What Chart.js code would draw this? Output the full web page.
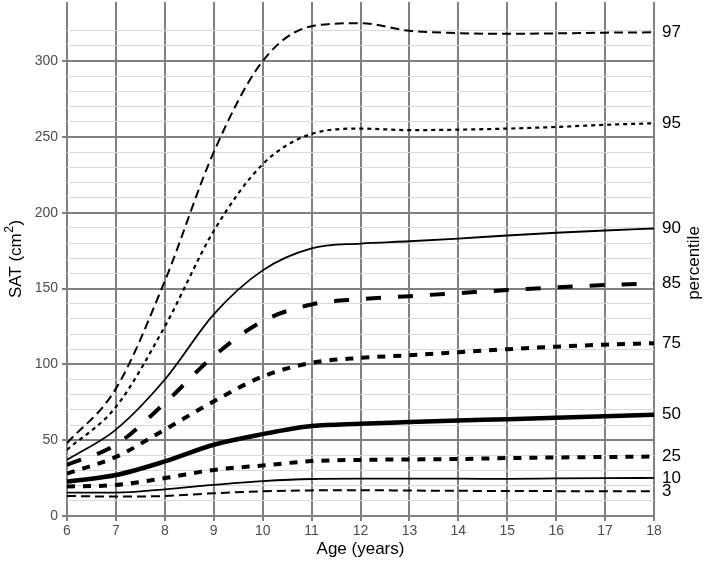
<!DOCTYPE html>
<html lang="en">
<head>
  <meta charset="UTF-8">
  <title>SAT percentiles</title>
  <script src="https://cdn.jsdelivr.net/npm/chart.js"></script>
  <style>
    html, body { margin: 0; padding: 0; background: #fff; }
    #wrap { width: 708px; height: 568px; }
  </style>
</head>
<body>
  <div id="wrap"><canvas id="satChart"></canvas></div>

  <script>
    const ages = [6, 7, 8, 9, 10, 11, 12, 13, 14, 15, 16, 17, 18];
    const percentiles = ['97', '95', '90', '85', '75', '50', '25', '10', '3'];

    const p97 = [48, 84, 155, 240, 300, 323, 325, 320, 318.5, 318, 318.3, 318.8, 319];
    const p95 = [43.6, 72, 125, 188, 232, 252, 255.5, 254.5, 254.8, 255.5, 256.6, 258, 259];
    const p90 = [37, 57, 90, 133, 162, 176.5, 179.7, 181.2, 183, 185, 186.8, 188.3, 189.6];
    const p85 = [33.7, 47, 74.5, 105.5, 128.5, 139.5, 143, 145, 147, 149, 150.8, 152.3, 153.5];
    const p75 = [28, 39, 57, 75.6, 92, 101, 104.3, 106, 108, 110, 111.7, 113, 114];
    const p50 = [22.7, 27, 36, 47, 54, 59.3, 60.9, 62, 63, 63.8, 64.8, 65.8, 66.8];
    const p25 = [19.4, 20.5, 25, 30.4, 33.3, 36.2, 37, 37.3, 37.6, 38.2, 38.6, 38.9, 39.2];
    const p10 = [15.4, 15.4, 17.6, 20.5, 23, 24.4, 24.6, 24.6, 24.6, 24.5, 24.8, 25, 25.1];
    const p3 = [13.2, 12.8, 13.2, 15, 16.3, 16.9, 17, 16.8, 16.6, 16.5, 16.4, 16.3, 16.3];

    const series = [p97, p95, p90, p85, p75, p50, p25, p10, p3];

    // line look per percentile (width, dash)
    const styles = [
      { w: 2, dash: [9, 5] },
      { w: 2.2, dash: [4, 4] },
      { w: 1.8, dash: [] },
      { w: 4, dash: [15, 17] },
      { w: 4, dash: [8, 8] },
      { w: 4.5, dash: [] },
      { w: 4, dash: [8, 8] },
      { w: 1.8, dash: [] },
      { w: 2, dash: [9, 5] }
    ];

    const datasets = series.map((vals, i) => ({
      label: percentiles[i],
      data: ages.map((a, j) => ({ x: a, y: vals[j] })),
      borderColor: '#000',
      borderWidth: styles[i].w,
      borderDash: styles[i].dash,
      pointRadius: 0,
      fill: false,
      cubicInterpolationMode: 'monotone'
    }));

    const gridGray = '#808080';
    const minorGray = '#d9d9d9';
    const tickGray = '#4d4d4d';
    const fontFam = 'Arial, "Liberation Sans", sans-serif';

    // percentile labels at curve ends, "percentile" caption, y title with superscript
    const endLabels = {
      id: 'endLabels',
      afterDraw(chart) {
        const ctx = chart.ctx;
        const y = chart.scales.y;
        const area = chart.chartArea;
        ctx.save();
        ctx.fillStyle = '#000';
        ctx.font = '17px ' + fontFam;
        ctx.textAlign = 'left';
        ctx.textBaseline = 'middle';
        series.forEach((vals, i) => {
          ctx.fillText(percentiles[i], area.right + 8, y.getPixelForValue(vals[vals.length - 1]));
        });
        ctx.save();
        ctx.translate(694, 263);
        ctx.rotate(-Math.PI / 2);
        ctx.textAlign = 'center';
        ctx.fillText('percentile', 0, 0);
        ctx.restore();

        // y axis title: SAT (cm^2)
        const main = 'SAT (cm';
        const sup = '2';
        const close = ')';
        ctx.font = '17px ' + fontFam;
        const wMain = ctx.measureText(main).width;
        const wClose = ctx.measureText(close).width;
        ctx.font = '12px ' + fontFam;
        const wSup = ctx.measureText(sup).width + 1;
        const total = wMain + wSup + wClose;
        ctx.translate(21, (area.top + area.bottom) / 2);
        ctx.rotate(-Math.PI / 2);
        ctx.textAlign = 'left';
        ctx.textBaseline = 'alphabetic';
        let x0 = -total / 2;
        ctx.font = '17px ' + fontFam;
        ctx.fillText(main, x0, 0);
        ctx.font = '12px ' + fontFam;
        ctx.fillText(sup, x0 + wMain + 0.5, -8);
        ctx.font = '17px ' + fontFam;
        ctx.fillText(close, x0 + wMain + wSup, 0);
        ctx.restore();
      }
    };

    new Chart(document.getElementById('satChart'), {
      type: 'line',
      data: { datasets: datasets },
      options: {
        responsive: true,
        maintainAspectRatio: false,
        animation: false,
        layout: { padding: { top: 2, right: 54, bottom: 0, left: 0 } },
        plugins: {
          legend: { display: false },
          tooltip: { enabled: false }
        },
        scales: {
          x: {
            type: 'linear',
            min: 6,
            max: 18,
            ticks: {
              stepSize: 1,
              color: tickGray,
              font: { family: fontFam, size: 14 },
              padding: 2
            },
            grid: {
              color: gridGray,
              lineWidth: 2,
              tickLength: 5,
              tickColor: gridGray
            },
            border: { display: false },
            title: {
              display: true,
              text: 'Age (years)',
              color: '#000',
              font: { family: fontFam, size: 17 },
              padding: { top: 0, bottom: 8 }
            },
            afterFit(scale) {
              scale.height = 52;
              scale.paddingLeft = 0;
              scale.paddingRight = 0;
            }
          },
          y: {
            type: 'linear',
            min: 0,
            max: 339,
            afterBuildTicks(scale) {
              scale.ticks = scale.ticks.filter(t => t.value % 10 === 0);
            },
            ticks: {
              stepSize: 10,
              autoSkip: false,
              color: tickGray,
              font: { family: fontFam, size: 14 },
              padding: 4,
              callback: v => (v % 50 === 0 ? v : '')
            },
            grid: {
              color: ctx => (ctx.tick && ctx.tick.value % 50 === 0 ? gridGray : minorGray),
              lineWidth: ctx => (ctx.tick && ctx.tick.value % 50 === 0 ? 2 : 1),
              tickLength: 5,
              tickColor: ctx => (ctx.tick && ctx.tick.value % 50 === 0 ? gridGray : 'rgba(0,0,0,0)')
            },
            border: { display: false },
            title: { display: false },
            afterFit(scale) {
              scale.width = 67;
              scale.paddingTop = 0;
              scale.paddingBottom = 0;
            }
          }
        }
      },
      plugins: [endLabels]
    });
  </script>
</body>
</html>
